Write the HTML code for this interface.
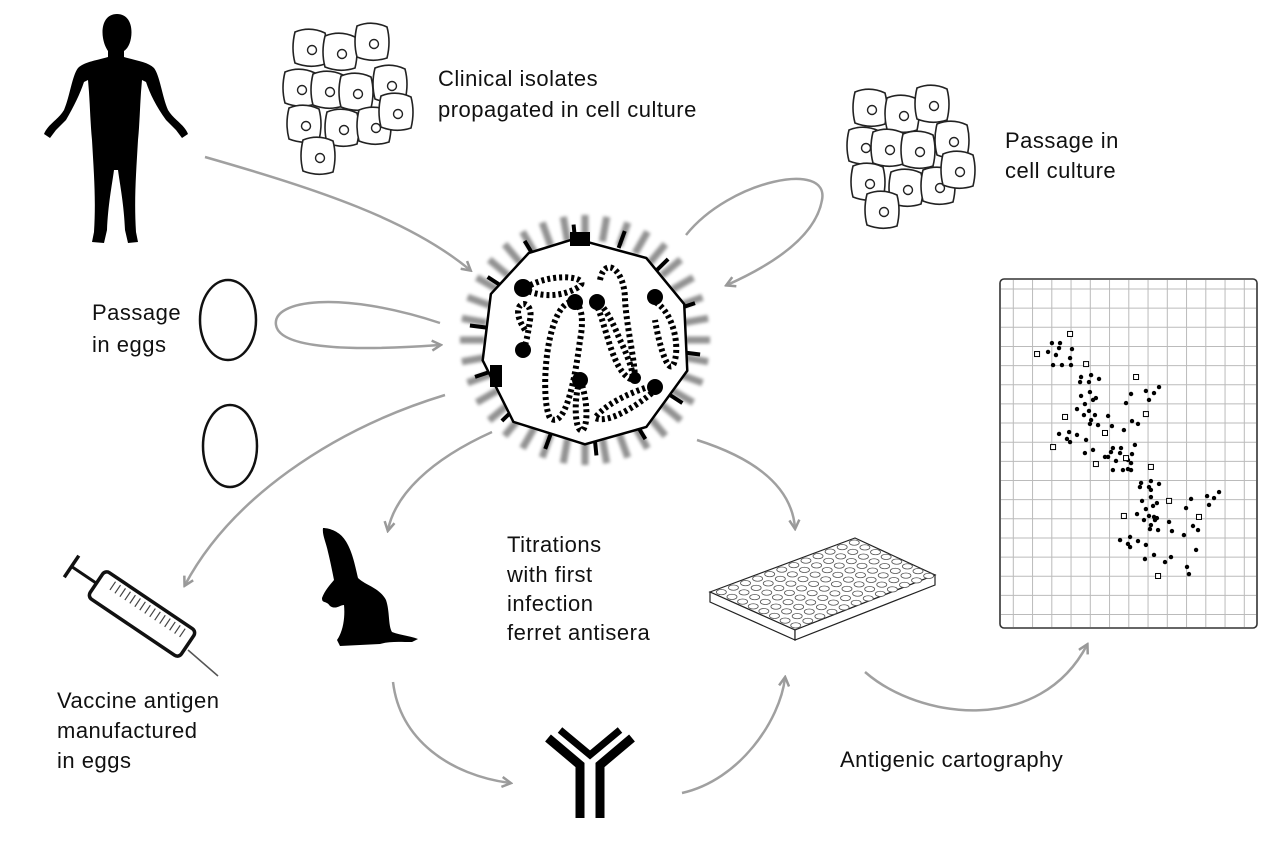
<!DOCTYPE html>
<html><head><meta charset="utf-8">
<style>
html,body{margin:0;padding:0;background:#fff}
svg{display:block}
text{font-family:"Liberation Sans",sans-serif;font-size:22px;letter-spacing:0.5px;fill:#111}
</style></head>
<body>
<svg width="1277" height="843" viewBox="0 0 1277 843">
<defs>
<marker id="ah" markerWidth="12" markerHeight="12" refX="9" refY="6" orient="auto" markerUnits="userSpaceOnUse">
<path d="M1,1 L10,6 L1,11" fill="none" stroke="#999" stroke-width="2.5"/>
</marker>
<filter id="blur"><feGaussianBlur stdDeviation="1.6"/></filter>
<g id="cell"><path d="M-15,-16 Q0,-22 15,-15 Q19,0 15,16 Q0,21 -15,15 Q-19,0 -15,-16Z" fill="#fff" stroke="#222" stroke-width="1.6"/><circle cx="2" cy="2" r="4.5" fill="#fff" stroke="#222" stroke-width="1.4"/></g>
</defs>

<g fill="none" stroke="#a0a0a0" stroke-width="2.5" marker-end="url(#ah)">
<path d="M205,157 C 320,190 410,220 470,270"/>
<path d="M686,235 C 730,180 830,160 822,200 C 815,240 765,268 727,285"/>
<path d="M440,323 C 340,290 272,300 276,325 C 280,352 370,350 440,345"/>
<path d="M445,395 C 330,430 230,500 185,585"/>
<path d="M492,432 C 430,460 395,495 388,530"/>
<path d="M697,440 C 760,460 792,490 795,528"/>
<path d="M393,682 C 400,740 450,775 510,783"/>
<path d="M682,793 C 740,780 780,720 785,678"/>
<path d="M865,672 C 920,720 1040,735 1087,645"/>
</g>

<path fill="#000" d="M117,14 C105,14 101,26 103,38 C104,44 106,48 108,51 L108,57 C94,61 84,62 78,68 C72,76 70,96 64,110 C58,120 48,124 44,134 L50,138 L56,130 L66,120 C74,106 80,94 84,82 L88,80 C90,100 90,120 92,140 C94,175 96,200 94,232 L92,242 L104,243 L107,230 C108,205 112,185 114,170 L118,170 C120,185 124,205 125,230 L128,243 L138,242 L136,232 C134,200 136,175 138,140 C140,120 140,100 142,80 L146,82 C150,94 156,106 166,120 L176,130 L182,138 L188,134 C184,124 174,120 168,110 C162,96 160,76 154,68 C148,62 138,61 124,57 L124,51 C128,48 130,44 131,38 C133,26 129,14 117,14Z"/>

<g>
<use href="#cell" x="310" y="48"/><use href="#cell" x="340" y="52"/><use href="#cell" x="372" y="42"/>
<use href="#cell" x="300" y="88"/><use href="#cell" x="328" y="90"/><use href="#cell" x="356" y="92"/><use href="#cell" x="390" y="84"/>
<use href="#cell" x="304" y="124"/><use href="#cell" x="342" y="128"/><use href="#cell" x="374" y="126"/><use href="#cell" x="396" y="112"/>
<use href="#cell" x="318" y="156"/>
</g>
<g>
<use href="#cell" x="870" y="108"/><use href="#cell" x="902" y="114"/><use href="#cell" x="932" y="104"/>
<use href="#cell" x="864" y="146"/><use href="#cell" x="888" y="148"/><use href="#cell" x="918" y="150"/><use href="#cell" x="952" y="140"/>
<use href="#cell" x="868" y="182"/><use href="#cell" x="906" y="188"/><use href="#cell" x="938" y="186"/><use href="#cell" x="958" y="170"/>
<use href="#cell" x="882" y="210"/>
</g>

<ellipse cx="228" cy="320" rx="28" ry="40" fill="#fff" stroke="#111" stroke-width="2.5"/>
<ellipse cx="230" cy="446" rx="27" ry="41" fill="#fff" stroke="#111" stroke-width="2.5"/>

<g transform="translate(585,340)">
<g stroke="#777" stroke-width="7" filter="url(#blur)" opacity="0.8" id="fuzz"></g>
<g stroke="#000" stroke-width="4" id="spikes"></g>
<polygon points="-10,-99 60,-80 97,-35 100,30 60,85 0,102 -70,80 -100,20 -92,-45 -55,-85" fill="#fff" stroke="#000" stroke-width="7"/>
<polygon points="-10,-99 60,-80 97,-35 100,30 60,85 0,102 -70,80 -100,20 -92,-45 -55,-85" fill="#fff" stroke="#fff" stroke-width="2"/>
<g fill="none" stroke="#000" stroke-width="6" stroke-dasharray="3 3">
<path d="M-60,-52 C-30,-70 10,-62 -8,-52 C-30,-40 -50,-46 -60,-50"/>
<path d="M-60,-10 C-80,-40 -50,-45 -55,-20 C-58,0 -60,10 -65,10"/>
<path d="M-15,-38 C-40,-30 -45,60 -35,78 C-20,90 -10,40 -5,0 C0,-25 -5,-40 -15,-38"/>
<path d="M10,-38 C20,-20 25,20 40,35 C55,50 45,20 35,0 C25,-25 15,-40 10,-38"/>
<path d="M15,-60 C20,-85 40,-70 40,-40 C42,-10 50,20 50,40"/>
<path d="M65,-40 C85,-35 95,0 90,20 C85,40 75,10 70,-20"/>
<path d="M-5,40 C0,50 5,80 -2,90 C-10,95 -12,60 -5,40"/>
<path d="M60,48 C40,55 20,65 10,78 C25,85 60,60 70,50"/>
</g>
<g fill="#000">
<circle cx="-62" cy="-52" r="9"/><circle cx="-10" cy="-38" r="8"/><circle cx="12" cy="-38" r="8"/><circle cx="70" cy="-43" r="8"/><circle cx="-62" cy="10" r="8"/><circle cx="-5" cy="40" r="8"/><circle cx="70" cy="47" r="8"/><circle cx="50" cy="38" r="6"/>
<rect x="-15" y="-108" width="20" height="14"/><rect x="-95" y="25" width="12" height="22"/>
</g>
</g>

<g stroke="#111" fill="none">
<line x1="188" y1="650" x2="218" y2="676" stroke-width="1.5" stroke="#555"/>
<g transform="translate(142,614) rotate(34)">
<rect x="-55" y="-16" width="110" height="32" rx="5" stroke-width="3.5" fill="#fff"/>
<g stroke-width="1.2" stroke="#444">
<line x1="-40" y1="-12" x2="-40" y2="-2"/><line x1="-34" y1="-12" x2="-34" y2="-2"/><line x1="-28" y1="-12" x2="-28" y2="-2"/><line x1="-22" y1="-12" x2="-22" y2="-2"/><line x1="-16" y1="-12" x2="-16" y2="-2"/><line x1="-10" y1="-12" x2="-10" y2="-2"/><line x1="-4" y1="-12" x2="-4" y2="-2"/><line x1="2" y1="-12" x2="2" y2="-2"/><line x1="8" y1="-12" x2="8" y2="-2"/><line x1="14" y1="-12" x2="14" y2="-2"/><line x1="20" y1="-12" x2="20" y2="-2"/><line x1="26" y1="-12" x2="26" y2="-2"/><line x1="32" y1="-12" x2="32" y2="-2"/><line x1="38" y1="-12" x2="38" y2="-2"/><line x1="44" y1="-12" x2="44" y2="-2"/>
</g>
<line x1="-55" y1="0" x2="-85" y2="0" stroke-width="3"/>
<line x1="-85" y1="-13" x2="-85" y2="13" stroke-width="3.5"/>
</g>
</g>

<path fill="#000" d="M323,528 C330,528 340,532 345,540 C352,550 355,565 358,578 C365,585 380,588 386,600 C390,612 388,625 392,632 C400,635 410,636 418,639 L412,642 C400,642 390,641 380,644 L340,646 L337,640 C344,630 345,615 344,605 C340,605 336,610 330,606 C326,600 322,604 322,598 C325,590 330,585 334,580 C332,570 330,560 328,552 C326,542 322,535 323,528Z"/>

<g stroke="#000" stroke-width="9" fill="none">
<path d="M548,738 L580,765 L580,818"/><path d="M632,738 L600,765 L600,818"/>
<path d="M560,730 L590,755 L620,730" stroke-width="7"/>
</g>

<g stroke="#222" stroke-width="1.2">
<polygon points="710,592 855,538 935,575 795,630" fill="#fff"/>
<polygon points="710,592 795,630 795,640 710,602" fill="#fff"/>
<polygon points="795,630 935,575 935,585 795,640" fill="#fff"/>
<g id="wells" fill="#fff" stroke="#555" stroke-width="0.8"></g>
</g>

<g>
<rect x="1000" y="279" width="257" height="349" rx="4" fill="#fff" stroke="#333" stroke-width="1.6"/>
<g id="grid" stroke="#bbb" stroke-width="1"></g>
<g id="points"></g>
</g>

<g>
<text x="438" y="86">Clinical isolates</text>
<text x="438" y="117">propagated in cell culture</text>
<text x="1005" y="148">Passage in</text>
<text x="1005" y="178">cell culture</text>
<text x="92" y="320">Passage</text>
<text x="92" y="352">in eggs</text>
<text x="507" y="552">Titrations</text>
<text x="507" y="582">with first</text>
<text x="507" y="611">infection</text>
<text x="507" y="640">ferret antisera</text>
<text x="57" y="708">Vaccine antigen</text>
<text x="57" y="738">manufactured</text>
<text x="57" y="768">in eggs</text>
<text x="840" y="767">Antigenic cartography</text>
</g>
</svg>
<script>
// antigenic map data (antigenic units; 1 unit = 1 grid cell)
const antigenX = [2.69,3.11,3.06,3.73,2.90,2.49,3.63,2.75,3.21,3.68,4.20,4.72,5.13,4.15,4.61,4.66,4.20,4.97,4.82,4.40,3.99,4.61,4.92,4.35,4.72,5.08,5.60,5.80,4.66,6.79,6.53,7.56,7.98,8.24,7.72,6.84,7.15,6.42,3.06,3.58,3.99,3.47,3.63,4.46,4.40,4.82,5.44,5.60,5.85,5.75,6.27,6.22,6.01,5.85,6.37,6.63,6.79,6.79,6.84,6.99,6.63,7.31,7.82,8.24,7.25,7.72,7.82,7.82,7.36,8.13,7.93,7.56,7.10,7.72,7.98,8.13,8.03,7.46,7.82,7.77,8.19,8.76,8.91,9.90,9.64,10.73,11.09,11.35,10.83,10.00,10.26,9.53,10.16,6.22,6.74,6.63,6.74,7.15,7.56,7.51,7.98,8.86,8.55,9.69,9.79];
const antigenY = [3.37,3.37,3.63,3.68,3.99,3.83,4.15,4.51,4.51,4.51,5.13,5.03,5.23,5.39,5.39,5.91,6.11,6.22,6.32,6.53,6.79,6.89,7.10,7.10,7.36,7.62,7.15,7.67,7.56,6.01,6.48,5.85,5.96,5.65,6.32,7.41,7.56,7.88,8.08,7.98,8.13,8.34,8.50,8.39,9.07,8.91,9.27,9.27,8.81,9.02,8.81,9.07,9.48,9.95,9.95,9.90,9.95,9.59,9.12,8.65,9.43,10.62,10.52,10.67,10.83,10.83,10.98,11.35,11.55,11.66,11.81,11.97,12.23,12.33,12.38,12.44,12.54,12.54,12.80,13.01,13.06,12.64,13.11,11.45,11.92,11.30,11.40,11.09,11.76,12.85,13.06,13.32,14.09,13.58,13.42,13.78,13.94,13.63,13.83,14.56,14.35,14.46,14.72,14.97,15.34];
const serumX = [3.63,1.92,4.46,7.05,3.37,7.56,5.44,2.75,4.97,6.53,7.82,8.76,6.42,10.31,8.19];
const serumY = [2.90,3.94,4.46,5.13,7.20,7.05,8.03,8.76,9.64,9.33,9.79,11.55,12.33,12.38,15.44];

const NS = 'http://www.w3.org/2000/svg';
const X0 = 1000, Y0 = 278, CELL = 19.3;
function sx(u){ return X0 + u * CELL; }
function sy(u){ return Y0 + u * CELL; }

const grid = document.getElementById('grid');
for (let i = 0; i < 13; i++) {
  const l = document.createElementNS(NS, 'line');
  const x = 1013.3 + i * 19.25;
  l.setAttribute('x1', x); l.setAttribute('x2', x); l.setAttribute('y1', 280); l.setAttribute('y2', 627);
  
  
  grid.appendChild(l);
}
for (let i = 0; i < 18; i++) {
  const l = document.createElementNS(NS, 'line');
  const y = 289 + i * 19.15;
  l.setAttribute('x1', 1001); l.setAttribute('x2', 1256); l.setAttribute('y1', y); l.setAttribute('y2', y);
  
  
  grid.appendChild(l);
}

const pts = document.getElementById('points');
antigenX.forEach((u, i) => {
  const c = document.createElementNS(NS, 'circle');
  c.setAttribute('cx', sx(u)); c.setAttribute('cy', sy(antigenY[i])); c.setAttribute('r', 2.2);
  c.setAttribute('fill', '#000');
  
  
  pts.appendChild(c);
});
serumX.forEach((u, i) => {
  const r = document.createElementNS(NS, 'rect');
  r.setAttribute('x', sx(u) - 2.5); r.setAttribute('y', sy(serumY[i]) - 2.5);
  r.setAttribute('width', 5); r.setAttribute('height', 5);
  r.setAttribute('fill', '#fff'); r.setAttribute('stroke', '#000'); r.setAttribute('stroke-width', 1);
  
  
  pts.appendChild(r);
});

const fuzz = document.getElementById('fuzz'), spikes = document.getElementById('spikes');
for (let k = 0; k < 36; k++) {
  const a = k / 36 * Math.PI * 2;
  const l = document.createElementNS(NS, 'line');
  l.setAttribute('x1', Math.cos(a) * 100); l.setAttribute('y1', Math.sin(a) * 100);
  l.setAttribute('x2', Math.cos(a) * 125); l.setAttribute('y2', Math.sin(a) * 125);
  
  
  fuzz.appendChild(l);
}
for (let k = 0; k < 14; k++) {
  const a = (k / 14 + 0.02) * Math.PI * 2;
  const l = document.createElementNS(NS, 'line');
  l.setAttribute('x1', Math.cos(a) * 98); l.setAttribute('y1', Math.sin(a) * 98);
  l.setAttribute('x2', Math.cos(a) * 116); l.setAttribute('y2', Math.sin(a) * 116);
  
  
  spikes.appendChild(l);
}

const wells = document.getElementById('wells');
for (let r = 0; r < 8; r++) {
  for (let c = 0; c < 12; c++) {
    const e = document.createElementNS(NS, 'ellipse');
    const fx = (c + 0.5) / 12, fy = (r + 0.5) / 8;
    const x = 710 + fx * 145 + fy * 85, y = 592 - fx * 54 + fy * 38;
    e.setAttribute('cx', x); e.setAttribute('cy', y); e.setAttribute('rx', 5); e.setAttribute('ry', 2.6);
    
    
    wells.appendChild(e);
  }
}
</script>
</body></html>
